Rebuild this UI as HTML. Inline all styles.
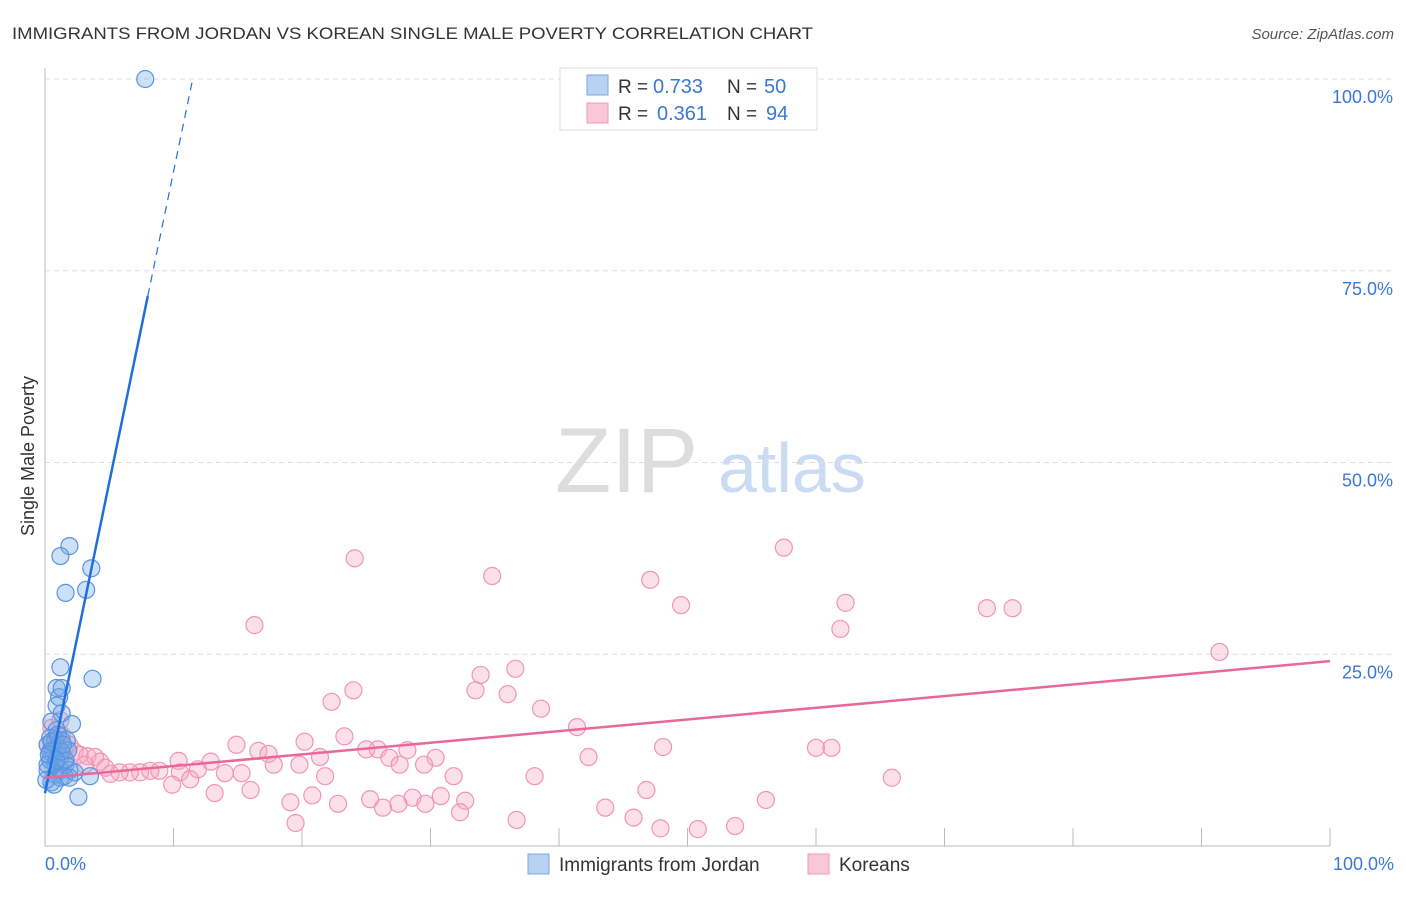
<!DOCTYPE html>
<html><head><meta charset="utf-8"><style>
body{margin:0;background:#fff;font-family:"Liberation Sans",sans-serif;}
svg text{font-family:"Liberation Sans",sans-serif;}
</style></head><body>
<svg id="c" width="1406" height="892">
<text x="12" y="39" font-size="17" fill="#333" textLength="801" lengthAdjust="spacingAndGlyphs">IMMIGRANTS FROM JORDAN VS KOREAN SINGLE MALE POVERTY CORRELATION CHART</text>
<text x="1394" y="39" font-size="15" fill="#555" font-style="italic" text-anchor="end">Source: ZipAtlas.com</text>
<text x="34" y="456" font-size="18" fill="#333" text-anchor="middle" transform="rotate(-90 34 456)">Single Male Poverty</text>
<text x="555" y="492" font-size="92" fill="#ddd" font-family="Liberation Serif,serif">ZIP</text>
<text x="718" y="492" font-size="70" fill="#c9dcf2">atlas</text>
<g id="grid"></g><g id="pts"></g><g id="lines"></g>
<g>
<rect x="560" y="68" width="257" height="62" fill="#fff" stroke="#ddd"/>
<rect x="587" y="75" width="21" height="20" fill="#b7d2f3" stroke="#7aa8e6"/>
<rect x="587" y="103" width="21" height="20" fill="#f9c7d6" stroke="#f09ab5"/>
<text x="618" y="93" font-size="19" fill="#333">R =</text>
<text x="653" y="93" font-size="20" fill="#3a78d6">0.733</text>
<text x="727" y="93" font-size="19" fill="#333">N =</text>
<text x="764" y="93" font-size="20" fill="#3a78d6">50</text>
<text x="618" y="120" font-size="19" fill="#333">R =</text>
<text x="657" y="120" font-size="20" fill="#3a78d6">0.361</text>
<text x="727" y="120" font-size="19" fill="#333">N =</text>
<text x="766" y="120" font-size="20" fill="#3a78d6">94</text>
</g>
<g>
<rect x="528" y="854" width="21" height="20" fill="#b7d2f3" stroke="#7aa8e6"/>
<text x="559" y="871" font-size="19" fill="#333">Immigrants from Jordan</text>
<rect x="808" y="854" width="21" height="20" fill="#f9c7d6" stroke="#f09ab5"/>
<text x="839" y="871" font-size="19" fill="#333">Koreans</text>
</g>
<text x="45" y="870" font-size="18" fill="#3a78d6">0.0%</text>
<text x="1394" y="870" font-size="18" fill="#3a78d6" text-anchor="end">100.0%</text>
</svg>
<script>
const blueX=[7.8,1.9,1.2,3.6,1.6,3.2,1.2,3.7,0.9,1.1,1.3,0.9,1.3,2.1,0.5,0.9,0.4,0.8,1.3,1.7,0.2,0.6,1.2,1.6,0.4,0.8,1.2,1.9,0.2,2.3,3.5,0.8,0.5,1.2,2.6,1.6,1.0,0.4,1.5,1.9,0.7,0.2,0.3,0.9,1.3,1.8,0.5,1.0,1.4,0.1];
const blueY=[100,39.1,37.8,36.2,33.0,33.4,23.3,21.8,20.6,19.4,20.6,18.3,17.3,15.9,16.2,15.1,14.1,13.8,13.8,13.8,13.2,12.5,11.6,10.6,11.2,10.6,9.9,9.9,9.9,9.6,9.1,9.3,8.3,8.9,6.4,11.2,12.8,12.3,9.1,8.9,8.0,10.6,11.9,11.2,12.3,12.5,13.6,14.5,13.2,8.6];
const pinkX=[24.1,34.8,47.1,57.5,49.5,62.3,73.3,75.3,16.3,61.9,91.4,36.6,33.9,24.0,33.5,36.0,22.3,38.6,41.4,23.3,14.9,20.2,48.1,60.0,61.2,25.0,25.9,16.6,28.2,17.4,21.4,30.4,26.8,42.3,10.4,17.8,19.8,27.6,29.5,12.9,21.8,31.8,38.1,65.9,15.3,11.9,14.0,10.5,8.2,7.4,6.6,5.8,5.1,8.9,11.3,9.9,16.0,13.2,20.8,28.6,30.8,25.3,32.7,19.1,22.8,27.5,29.6,56.1,46.8,43.6,26.3,32.3,45.8,36.7,19.5,47.9,50.8,53.7,0.5,0.9,1.3,1.9,2.3,2.7,3.3,3.9,4.3,4.7,3.1,1.6,0.8,0.2,1.2];
const pinkY=[37.5,35.2,34.7,38.9,31.4,31.7,31.0,31.0,28.8,28.3,25.3,23.1,22.3,20.3,20.3,19.8,18.8,17.9,15.5,14.3,13.2,13.6,12.9,12.8,12.8,12.6,12.6,12.4,12.5,12.0,11.6,11.5,11.5,11.6,11.1,10.6,10.6,10.6,10.6,11.0,9.1,9.1,9.1,8.9,9.5,10.0,9.5,9.6,9.8,9.6,9.6,9.6,9.4,9.8,8.7,8.0,7.3,6.9,6.6,6.3,6.5,6.1,5.9,5.7,5.5,5.5,5.5,6.0,7.3,5.0,5.0,4.4,3.7,3.4,3.0,2.3,2.2,2.6,15.4,13.8,14.5,13.2,12.3,11.9,11.7,11.6,11.0,10.2,10.6,11.2,12.3,13.2,16.4];
const yTicks=[25,50,75,100];
const yTickLabels=["25.0%","50.0%","75.0%","100.0%"];
const xTicks=[10,20,30,40,50,60,70,80,90,100];
const blueFit=[6.9,8.1]; const pinkFit=[8.9,0.152];
const sx=v=>45+v*12.85, sy=v=>846-v*7.67;
const NS="http://www.w3.org/2000/svg";
function mk(t,a,p){const e=document.createElementNS(NS,t);for(const k in a)e.setAttribute(k,a[k]);p.appendChild(e);return e;}
const g=document.getElementById('grid');
let ax=mk('line',{x1:45,y1:68,x2:45,y2:846,stroke:'#bbb'},g);


let bx=mk('line',{x1:45,y1:846,x2:1330,y2:846,stroke:'#bbb'},g);


yTicks.forEach((v,i)=>{
 const l=mk('line',{x1:45,y1:sy(v),x2:1395,y2:sy(v),stroke:'#ddd','stroke-dasharray':'5,4'},g);
 
 
 const t=mk('text',{x:1393,y:sy(v)+24,'font-size':18,fill:'#3a78d6','text-anchor':'end'},g);
 t.textContent=yTickLabels[i];
 
 
});
xTicks.forEach(v=>{
 const l=mk('line',{x1:sx(v),y1:828,x2:sx(v),y2:846,stroke:'#bbb'},g);
 
 
});
const P=document.getElementById('pts');
pinkX.forEach((x,i)=>{
 const c=mk('circle',{cx:sx(x),cy:sy(pinkY[i]),r:8.5,fill:'rgba(246,165,192,0.35)',stroke:'#f095b3','stroke-width':1.2},P);
 
 
});
blueX.forEach((x,i)=>{
 const c=mk('circle',{cx:sx(x),cy:sy(blueY[i]),r:8.5,fill:'rgba(110,165,230,0.35)',stroke:'#5b93e0','stroke-width':1.2},P);
 
 
});
const L=document.getElementById('lines');
const bEnd=8, bTop=(100-blueFit[0])/blueFit[1];
let b1=mk('line',{x1:sx(0),y1:sy(blueFit[0]),x2:sx(bEnd),y2:sy(blueFit[0]+blueFit[1]*bEnd),stroke:'#1f6fdc','stroke-width':2.5},L);


let b2=mk('line',{x1:sx(bEnd),y1:sy(blueFit[0]+blueFit[1]*bEnd),x2:sx(bTop),y2:sy(100),stroke:'#1f6fdc','stroke-width':1.2,'stroke-dasharray':'8,6'},L);


let p1=mk('line',{x1:sx(0),y1:sy(pinkFit[0]),x2:sx(100),y2:sy(pinkFit[0]+pinkFit[1]*100),stroke:'#e8689a','stroke-width':2.5},L);


</script>
</body></html>
